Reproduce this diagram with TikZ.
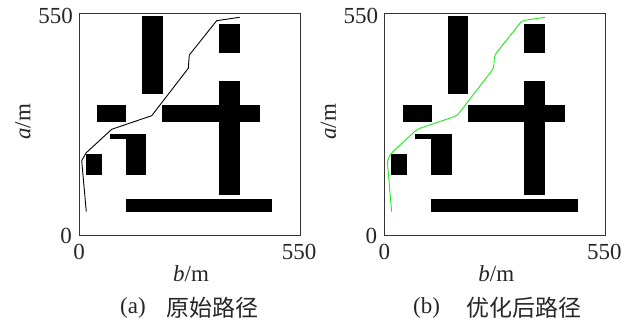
\documentclass[tikz,border=0pt]{standalone}
\usepackage{fontspec}
\setmainfont{Liberation Serif}
\newfontfamily\cjk{Noto Sans CJK SC}
\tikzset{
  frame/.style={draw=black!80,line width=1pt},
  block/.style={fill=black,draw=none},
  lbl/.style={inner sep=0pt,text=black!85,font=\fontsize{23}{23}\selectfont},
  captext/.style={inner sep=0pt,text=black!85,font=\fontsize{23}{23}\selectfont},
  route/.style={line width=0.9pt,line join=round}
}
\newcommand{\panel}[1]{%
  \begin{scope}[xshift=#1pt]
  \fill[block] (142.3,-15.7) rectangle (162.7,-93.7);
  \fill[block] (219,-24) rectangle (239.7,-52.7);
  \fill[block] (219,-81) rectangle (239.7,-195.3);
  \fill[block] (162.3,-105.3) rectangle (260,-122.3);
  \fill[block] (97.3,-105.3) rectangle (126.3,-122.3);
  \fill[block] (110,-134.3) rectangle (146.3,-138.7);
  \fill[block] (126,-134.3) rectangle (146.3,-175);
  \fill[block] (85.7,-154.3) rectangle (102,-175);
  \fill[block] (126,-199.3) rectangle (272.3,-212.3);
  \draw[frame] (79,-13.7) rectangle (300.3,-236);
  \node[lbl,anchor=east] at (73,-16) {550};
  \node[lbl,anchor=east] at (72,-236) {0};
  \node[lbl] at (79,-252) {0};
  \node[lbl] at (299,-252) {550};
  \node[lbl] at (191,-273.5) {\textit{b}/m};
  \node[lbl,rotate=90] at (23,-122) {\textit{a}/m};
  \end{scope}}
\begin{document}
\begin{tikzpicture}[x=1pt,y=1pt]
\useasboundingbox (0,0) rectangle (624,-320);
\panel{0}
\panel{305.33}
\coordinate (a0) at (86.3,-211.7);
\coordinate (a1) at (81.7,-160.7);
\coordinate (a2) at (86,-153);
\coordinate (a3) at (111.7,-129.3);
\coordinate (a4) at (151.7,-115.7);
\coordinate (a5) at (188.3,-68.3);
\coordinate (a6) at (189.3,-55);
\coordinate (a7) at (216.7,-20.7);
\coordinate (a8) at (239.7,-17.3);
\draw[route] (a0)--(a1)--(a2)--(a3)--(a4)--(a5)--(a6)--(a7)--(a8);
\begin{scope}[xshift=305.33pt]
\coordinate (b0) at (86.3,-211.7);
\coordinate (b1) at (81.9,-160.5);
\coordinate (b2) at (86,-153);
\coordinate (b3) at (111.7,-129.3);
\coordinate (b4) at (151.7,-115.7);
\coordinate (b5) at (188.3,-68.3);
\coordinate (b6) at (189.3,-55);
\coordinate (b7) at (216.7,-20.7);
\coordinate (b8) at (239.7,-17.3);
\draw[route,draw={rgb,255:red,30;green,235;blue,30},rounded corners=3pt] (b0)--(b1)--(b2)--(b3)--(b4)--(b5)--(b6)--(b7)--(b8);
\end{scope}
\node[captext,anchor=west] at (120,-308) {(a)};
\node[captext,anchor=west] at (166,-308) {\cjk 原始路径};
\node[captext,anchor=west] at (413,-308) {(b)};
\node[captext,anchor=west] at (466,-308) {\cjk 优化后路径};
\end{tikzpicture}
\end{document}
